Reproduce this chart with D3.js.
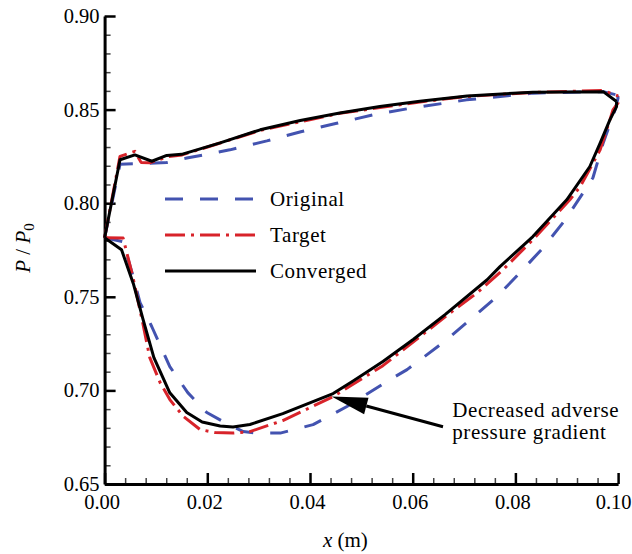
<!DOCTYPE html>
<html>
<head>
<meta charset="utf-8">
<script src="https://d3js.org/d3.v7.min.js"></script>
<style>
body { margin: 0; background: #fff; }
svg text { font-family: "Liberation Serif", "Times New Roman", serif; fill: #000; }
.axis path, .axis line { stroke: #000; }
.curve { fill: none; stroke-width: 3; stroke-linejoin: round; }
.wide { letter-spacing: 0.6px; }
</style>
</head>
<body>
<div id="chart"></div>
<script>
// pressure ratio along the blade, upper (suction) and lower (pressure) sides
var originalUpper = [[0,0.7815],[0.0030,0.8208],[0.0088,0.8213],[0.0121,0.8217],[0.0160,0.8241],[0.0244,0.8285],
  [0.0316,0.8333],[0.0384,0.8383],[0.0452,0.8427],[0.0523,0.8472],[0.0595,0.8507],[0.0705,0.8552],
  [0.0834,0.8588],[0.0926,0.8594],[0.0971,0.8596],[0.0998,0.8578]];
var originalLower = [[0,0.7815],[0.0036,0.7794],[0.0055,0.7613],[0.0069,0.7469],[0.0092,0.7340],[0.0127,0.7127],
  [0.0162,0.6988],[0.0199,0.6882],[0.0231,0.6833],[0.0270,0.6780],[0.0297,0.6772],[0.0342,0.6772],
  [0.0406,0.6817],[0.0472,0.6914],[0.0556,0.7058],[0.0589,0.7111],[0.0659,0.7255],[0.0712,0.7378],
  [0.0764,0.7501],[0.0809,0.7629],[0.0854,0.7762],[0.0897,0.7911],[0.0932,0.8056],[0.0951,0.8136],
  [0.0971,0.8322],[0.0994,0.8498],[0.1000,0.8562],[0.0998,0.8578]];

var targetUpper = [[0,0.7815],[0.0030,0.8250],[0.0059,0.8277],[0.0071,0.8218],[0.0088,0.8216],[0.0123,0.8248],
  [0.0151,0.8258],[0.0186,0.8288],[0.0303,0.8389],[0.0458,0.8480],[0.0614,0.8541],[0.0706,0.8570],
  [0.0834,0.8592],[0.0971,0.8602],[0.1000,0.8573]];
var targetLower = [[0,0.7815],[0.0036,0.7814],[0.0055,0.7607],[0.0075,0.7351],[0.0088,0.7175],[0.0108,0.7042],
  [0.0127,0.6951],[0.0153,0.6862],[0.0186,0.6791],[0.0215,0.6775],[0.0250,0.6772],[0.0283,0.6780],
  [0.0347,0.6839],[0.0445,0.6967],[0.0542,0.7132],[0.0614,0.7287],[0.0673,0.7414],[0.0725,0.7520],
  [0.0776,0.7645],[0.0834,0.7805],[0.0906,0.8018],[0.0926,0.8088],[0.0965,0.8285],[0.0984,0.8445],
  [0.0990,0.8498],[0.1000,0.8536],[0.1000,0.8573]];

var convergedUpper = [[0,0.7815],[0.0030,0.8232],[0.0059,0.8258],[0.0092,0.8224],[0.0121,0.8255],[0.0150,0.8261],
  [0.0186,0.8290],[0.0225,0.8322],[0.0303,0.8392],[0.0381,0.8442],[0.0458,0.8482],[0.0536,0.8517],
  [0.0614,0.8544],[0.0706,0.8573],[0.0834,0.8593],[0.0971,0.8596],[0.0997,0.8543]];
var convergedLower = [[0,0.7815],[0.0033,0.7751],[0.0056,0.7570],[0.0075,0.7378],[0.0096,0.7175],[0.0127,0.6987],
  [0.0160,0.6882],[0.0190,0.6831],[0.0225,0.6810],[0.0250,0.6804],[0.0283,0.6818],[0.0347,0.6876],
  [0.0445,0.6983],[0.0484,0.7050],[0.0542,0.7154],[0.0601,0.7272],[0.0663,0.7405],[0.0745,0.7591],
  [0.0770,0.7661],[0.0834,0.7822],[0.0900,0.8018],[0.0945,0.8196],[0.0965,0.8321],[0.0984,0.8445],
  [0.0997,0.8516],[0.0997,0.8543]];

var xTicks = [0, 0.02, 0.04, 0.06, 0.08, 0.10];
var yTicks = [0.65, 0.70, 0.75, 0.80, 0.85, 0.90];
var seriesNames = ["Original", "Target", "Converged"];
var note = ["Decreased adverse", "pressure gradient"];

var W = 632, H = 554;
var margin = {top: 16, right: 14, bottom: 70, left: 104.6},
    width = 513.5,
    height = 468;
var serif = '"Liberation Serif", "Times New Roman", serif';

var svg = d3.select("#chart").append("svg")
    .attr("width", W).attr("height", H);

var x = d3.scaleLinear().domain([0, 0.10]).range([0, width]),
    y = d3.scaleLinear().domain([0.65, 0.90]).range([height, 0]);

var g = svg.append("g")
    .attr("transform", "translate(" + margin.left + "," + margin.top + ")");

// minor ticks
var xMinor = d3.range(0, 0.1001, 0.004).filter(function(d) { return Math.abs(d / 0.02 - Math.round(d / 0.02)) > 1e-6; });
var yMinor = d3.range(0.65, 0.9001, 0.01).filter(function(d) { return Math.abs(d / 0.05 - Math.round(d / 0.05)) > 1e-6; });

g.append("g")
    .attr("transform", "translate(0," + height + ")")
    .call(d3.axisBottom(x).tickValues(xMinor).tickSize(-6).tickFormat(""))
    .call(function(s) { s.select(".domain").remove(); s.selectAll("line").attr("stroke", "#444").attr("stroke-width", 1.5); });
g.append("g")
    .call(d3.axisLeft(y).tickValues(yMinor).tickSize(-6).tickFormat(""))
    .call(function(s) { s.select(".domain").remove(); s.selectAll("line").attr("stroke", "#444").attr("stroke-width", 1.5); });

var xAxis = g.append("g")
    .attr("class", "axis")
    .attr("transform", "translate(0," + height + ")")
    .call(d3.axisBottom(x).tickValues(xTicks).tickSizeInner(-11).tickSizeOuter(0).tickPadding(6)
      .tickFormat(d3.format(".2f")));
xAxis.attr("font-family", serif).attr("font-size", 20.5);
xAxis.select(".domain").attr("stroke-width", 3);
xAxis.selectAll(".tick line").attr("stroke-width", 2.5);
xAxis.selectAll(".tick text").attr("dx", function(d, i) { return i === xTicks.length - 1 ? -5 : -3; }).attr("dy", "0.95em");

var yAxis = g.append("g")
    .attr("class", "axis")
    .call(d3.axisLeft(y).tickValues(yTicks).tickSizeInner(-11).tickSizeOuter(0).tickPadding(6)
      .tickFormat(d3.format(".2f")));
yAxis.attr("font-family", serif).attr("font-size", 20.5);
yAxis.select(".domain").attr("stroke-width", 3);
yAxis.selectAll(".tick line").attr("stroke-width", 2.5);
yAxis.selectAll(".tick text").attr("x", -5);

var line = d3.line()
    .x(function(d) { return x(d[0]); })
    .y(function(d) { return y(d[1]); });

var styles = [
  {color: "#4353b0", dash: "18,17"},
  {color: "#d8232a", dash: "20,6,3,6"},
  {color: "#000000", dash: null}
];
var curves = [[originalUpper, originalLower], [targetUpper, targetLower], [convergedUpper, convergedLower]];

curves.forEach(function(pair, i) {
  pair.forEach(function(pts) {
    g.append("path")
      .attr("class", "curve")
      .attr("d", line(pts))
      .attr("stroke", styles[i].color)
      .attr("stroke-dasharray", styles[i].dash);
  });
});

// legend
var legend = svg.append("g").attr("transform", "translate(165,199)");
seriesNames.forEach(function(name, i) {
  var row = legend.append("g").attr("transform", "translate(0," + [0, 36, 72][i] + ")");
  row.append("line")
    .attr("x1", 0).attr("x2", 91)
    .attr("stroke", styles[i].color)
    .attr("stroke-width", 3)
    .attr("stroke-dasharray", styles[i].dash);
  row.append("text")
    .attr("class", "wide")
    .attr("x", 105).attr("y", 7)
    .style("font-size", "21px")
    .text(name);
});

// annotation arrow
var tip = [0.0442, 0.6967], tail = [0.0659, 0.6806];
var tx = x(tip[0]), ty = y(tip[1]), ex = x(tail[0]), ey = y(tail[1]);
var ang = Math.atan2(ey - ty, ex - tx), L = 36, hw = 8.5;
var bx = tx + L * Math.cos(ang), by = ty + L * Math.sin(ang);
g.append("line")
    .attr("x1", bx).attr("y1", by).attr("x2", ex).attr("y2", ey)
    .attr("stroke", "#000").attr("stroke-width", 3);
g.append("path")
    .attr("d", "M" + tx + "," + ty +
      "L" + (bx - hw * Math.sin(ang)) + "," + (by + hw * Math.cos(ang)) +
      "L" + (bx + hw * Math.sin(ang)) + "," + (by - hw * Math.cos(ang)) + "Z")
    .attr("fill", "#000");

g.append("text")
    .attr("class", "wide")
    .attr("x", x(0.0677)).attr("y", y(0.6860))
    .style("font-size", "21px")
    .text(note[0]);
g.append("text")
    .attr("class", "wide")
    .attr("x", x(0.0677)).attr("y", y(0.6738))
    .style("font-size", "21px")
    .text(note[1]);

// axis titles
svg.append("text")
    .attr("x", margin.left + width / 2 - 16).attr("y", 547)
    .attr("text-anchor", "middle")
    .style("font-size", "21px")
    .html('<tspan font-style="italic">x</tspan> (m)');

svg.append("text")
    .attr("transform", "translate(30,248) rotate(-90)")
    .attr("text-anchor", "middle")
    .style("font-size", "21px")
    .html('<tspan font-style="italic">P</tspan> / <tspan font-style="italic">P</tspan><tspan font-size="15px" dy="4">0</tspan>');
</script>
</body>
</html>
